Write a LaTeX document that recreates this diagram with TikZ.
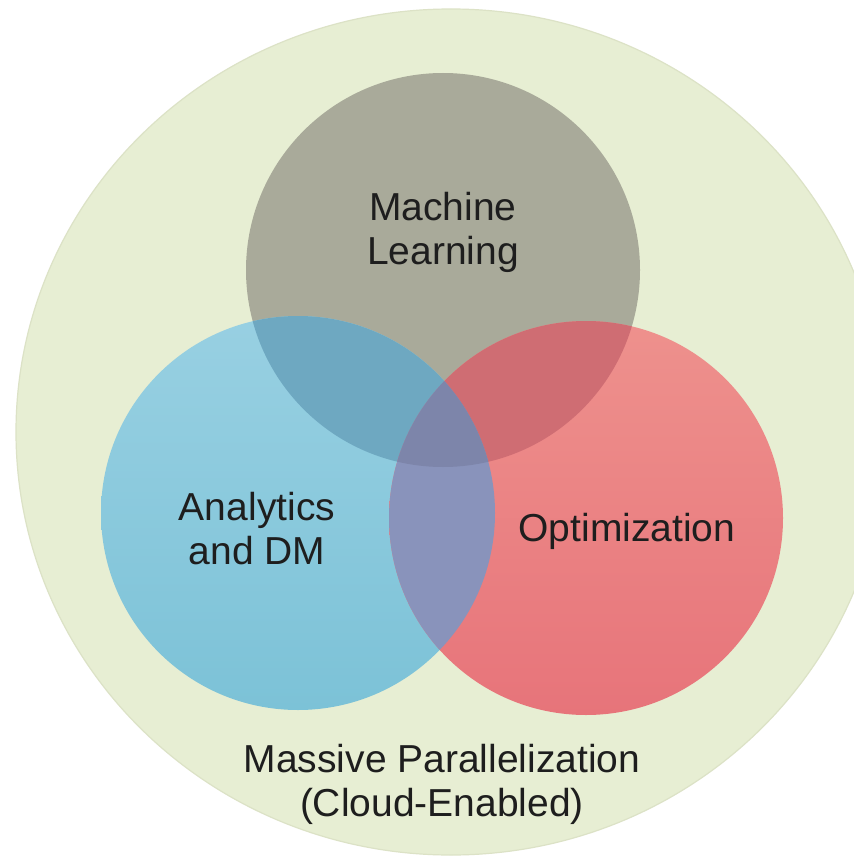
\documentclass[tikz,border=0pt]{standalone}
\usepackage{fontspec}
\setmainfont{Liberation Sans}
\definecolor{outerfill}{HTML}{E7EED3}
\definecolor{outerrim}{HTML}{DCE2C6}
\definecolor{mlgray}{HTML}{A9AA9A}
\definecolor{adblueT}{HTML}{98D0E2}
\definecolor{adblueB}{HTML}{7CC2D7}
\definecolor{opredT}{HTML}{EE918D}
\definecolor{opredB}{HTML}{E7747A}
\definecolor{gbcol}{HTML}{6EA8C1}
\definecolor{grcol}{HTML}{CF6D73}
\definecolor{brcol}{HTML}{8993BB}
\definecolor{allcol}{HTML}{7D85AA}
\definecolor{txt}{HTML}{1E1E1E}
\begin{document}
\begin{tikzpicture}[x=1pt,y=-1pt,
  label/.style={text=txt, align=center, inner sep=0pt,
    font=\fontsize{39}{44}\selectfont}]
\useasboundingbox (0,0) rectangle (853,861);
\fill[white] (0,0) rectangle (853,861);

% circle centres
\coordinate (cml) at (443,270);
\coordinate (cad) at (298,513);
\coordinate (cop) at (586,518);
\def\R{197}

% outer field: massive parallelization
\fill[outerfill, draw=outerrim, line width=1.2pt] (451,432) ellipse [x radius=435, y radius=423];

% the three sets
\fill[mlgray] (cml) circle [radius=\R];
\shade[top color=adblueT, bottom color=adblueB] (cad) circle [radius=\R];
\shade[top color=opredT, bottom color=opredB] (cop) circle [radius=\R];

% pairwise overlaps with machine learning
\begin{scope}
  \clip (cml) circle [radius=\R];
  \fill[gbcol] (cad) circle [radius=\R];
  \fill[grcol] (cop) circle [radius=\R];
\end{scope}
% analytics / optimization overlap and the common core
\begin{scope}
  \clip (cad) circle [radius=\R];
  \fill[brcol] (cop) circle [radius=\R];
  \clip (cml) circle [radius=\R];
  \fill[allcol] (cop) circle [radius=\R];
\end{scope}

% labels
\node[label] (ml) at (443,232) {Machine\\Learning};
\node[label] (ad) at (257,529) {Analytics\\and DM};
\node[label] (op) at (627,531) {Optimization};
\node[label] (mp) at (442,784) {Massive Parallelization\\(Cloud-Enabled)};
\end{tikzpicture}
\end{document}
